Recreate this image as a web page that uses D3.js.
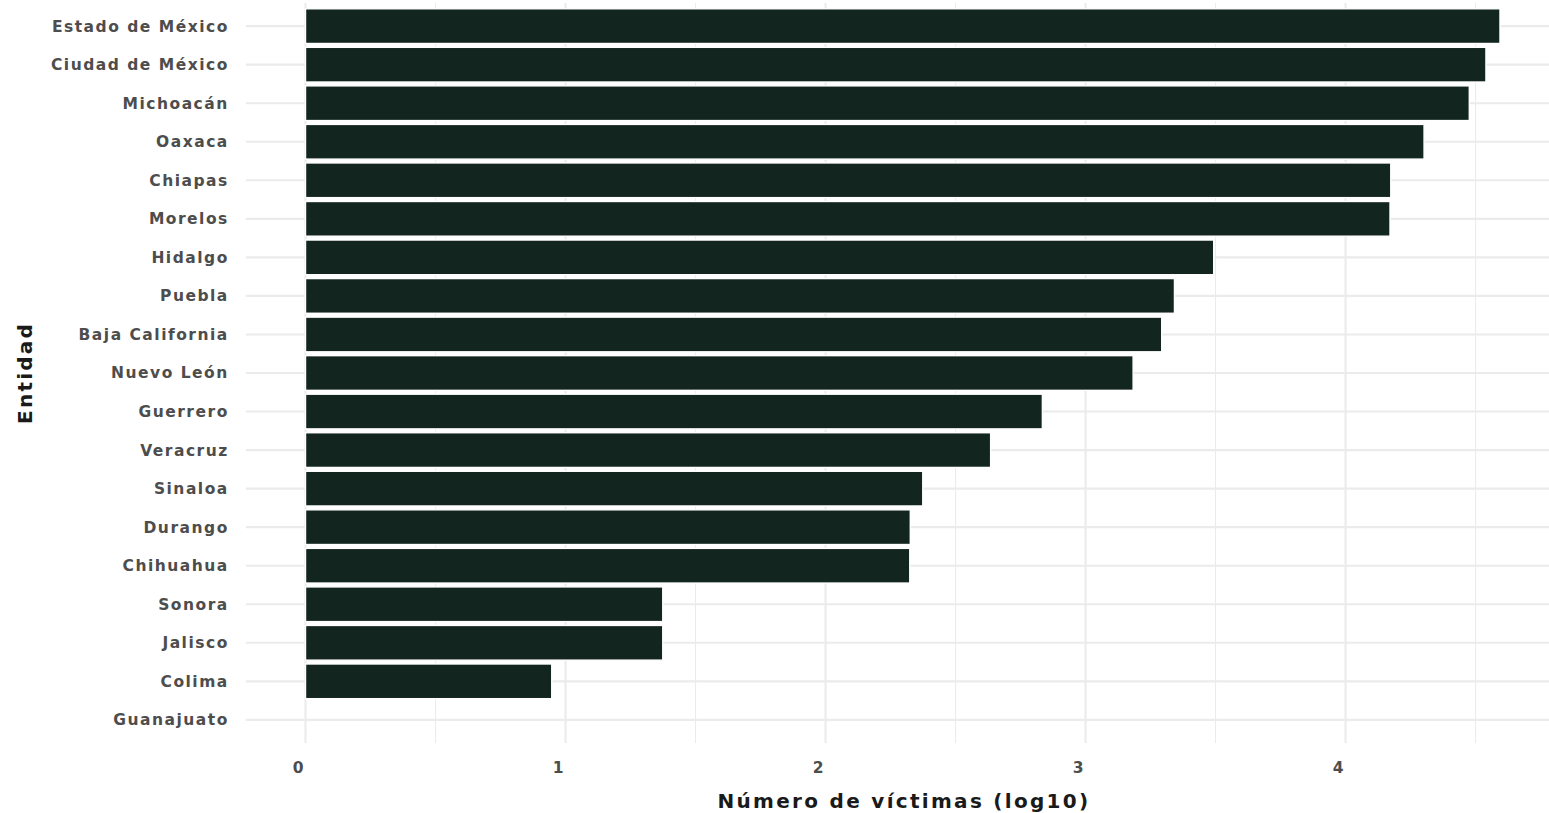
<!DOCTYPE html>
<html>
<head>
<meta charset="utf-8">
<script src="https://cdn.jsdelivr.net/npm/d3@7"></script>
<style>
  html, body { margin: 0; padding: 0; background: #fff; }
  svg { display: block; }
  text { font-family: "DejaVu Sans", sans-serif; }
</style>
</head>
<body>
<svg id="chart" width="1549" height="813"></svg>
<script>
// Data (log10 of number of victims), ordered top to bottom
const entidades = [
  "Estado de México", "Ciudad de México", "Michoacán", "Oaxaca", "Chiapas",
  "Morelos", "Hidalgo", "Puebla", "Baja California", "Nuevo León",
  "Guerrero", "Veracruz", "Sinaloa", "Durango", "Chihuahua",
  "Sonora", "Jalisco", "Colima", "Guanajuato"
];
const valores = [
  4.594, 4.540, 4.476, 4.302, 4.174,
  4.171, 3.493, 3.342, 3.293, 3.183,
  2.834, 2.635, 2.374, 2.326, 2.324,
  1.374, 1.374, 0.947, 0.0
];
const xTicks = [0, 1, 2, 3, 4];
const xMinor = [0.5, 1.5, 2.5, 3.5, 4.5];
const xTitle = "Número de víctimas (log10)";
const yTitle = "Entidad";

const data = entidades.map((e, i) => ({ entidad: e, valor: valores[i] }));

const svg = d3.select("#chart");
const panel = { left: 245.8, right: 1559.7, top: 3, bottom: 743 };

const maxV = d3.max(valores);
const pad = maxV * 0.05;
const x = d3.scaleLinear()
  .domain([-pad, maxV + pad])
  .range([panel.left, panel.right]);

const step = (panel.bottom - panel.top) / (entidades.length - 1 + 1.2);
const y = d3.scalePoint()
  .domain(entidades)
  .range([panel.top + 0.6 * step, panel.bottom - 0.6 * step]);
const barH = step * 0.9;

const grid = svg.append("g");
grid.selectAll("line.minor").data(xMinor).join("line")
  .attr("x1", d => x(d)).attr("x2", d => x(d))
  .attr("y1", panel.top).attr("y2", panel.bottom)
  .attr("stroke", "#ebebeb").attr("stroke-width", 1.1);
grid.selectAll("line.major").data(xTicks).join("line")
  .attr("x1", d => x(d)).attr("x2", d => x(d))
  .attr("y1", panel.top).attr("y2", panel.bottom)
  .attr("stroke", "#ebebeb").attr("stroke-width", 2.1);
grid.selectAll("line.hy").data(entidades).join("line")
  .attr("x1", panel.left).attr("x2", panel.right)
  .attr("y1", d => y(d)).attr("y2", d => y(d))
  .attr("stroke", "#ebebeb").attr("stroke-width", 2.1);

svg.append("g").selectAll("rect").data(data).join("rect")
  .attr("x", x(0))
  .attr("y", d => y(d.entidad) - barH / 2)
  .attr("width", d => Math.max(0, x(d.valor) - x(0)))
  .attr("height", barH)
  .attr("fill", "#13251f")
  .attr("stroke", "#ffffff")
  .attr("stroke-width", 1.4);

const yAxis = d3.axisLeft(y).tickSize(0).tickPadding(17);
const yg = svg.append("g").attr("transform", `translate(${panel.left},0)`).call(yAxis);
yg.select(".domain").remove();
yg.selectAll("text")
  .attr("font-size", 15.5)
  .attr("font-weight", "bold")
  .attr("fill", "#4d4d4d")
  .attr("letter-spacing", 1.5)
  .style("font-family", "'DejaVu Sans', sans-serif");

const xAxis = d3.axisBottom(x).tickValues(xTicks).tickSize(0).tickPadding(19).tickFormat(d3.format("d"));
const xg = svg.append("g").attr("transform", `translate(-8,${panel.bottom})`).call(xAxis);
xg.select(".domain").remove();
xg.selectAll("text")
  .attr("font-size", 15.5)
  .attr("font-weight", "bold")
  .attr("fill", "#4d4d4d")
  .style("font-family", "'DejaVu Sans', sans-serif");

svg.append("text")
  .attr("x", 904)
  .attr("y", 808)
  .attr("text-anchor", "middle")
  .attr("font-size", 20)
  .attr("font-weight", "bold")
  .attr("letter-spacing", 2.3)
  .attr("fill", "#1a1a1a")
  .text(xTitle);

svg.append("text")
  .attr("transform", `translate(32,${(panel.top + panel.bottom) / 2}) rotate(-90)`)
  .attr("text-anchor", "middle")
  .attr("font-size", 20)
  .attr("font-weight", "bold")
  .attr("letter-spacing", 2.2)
  .attr("fill", "#1a1a1a")
  .text(yTitle);
</script>
</body>
</html>
